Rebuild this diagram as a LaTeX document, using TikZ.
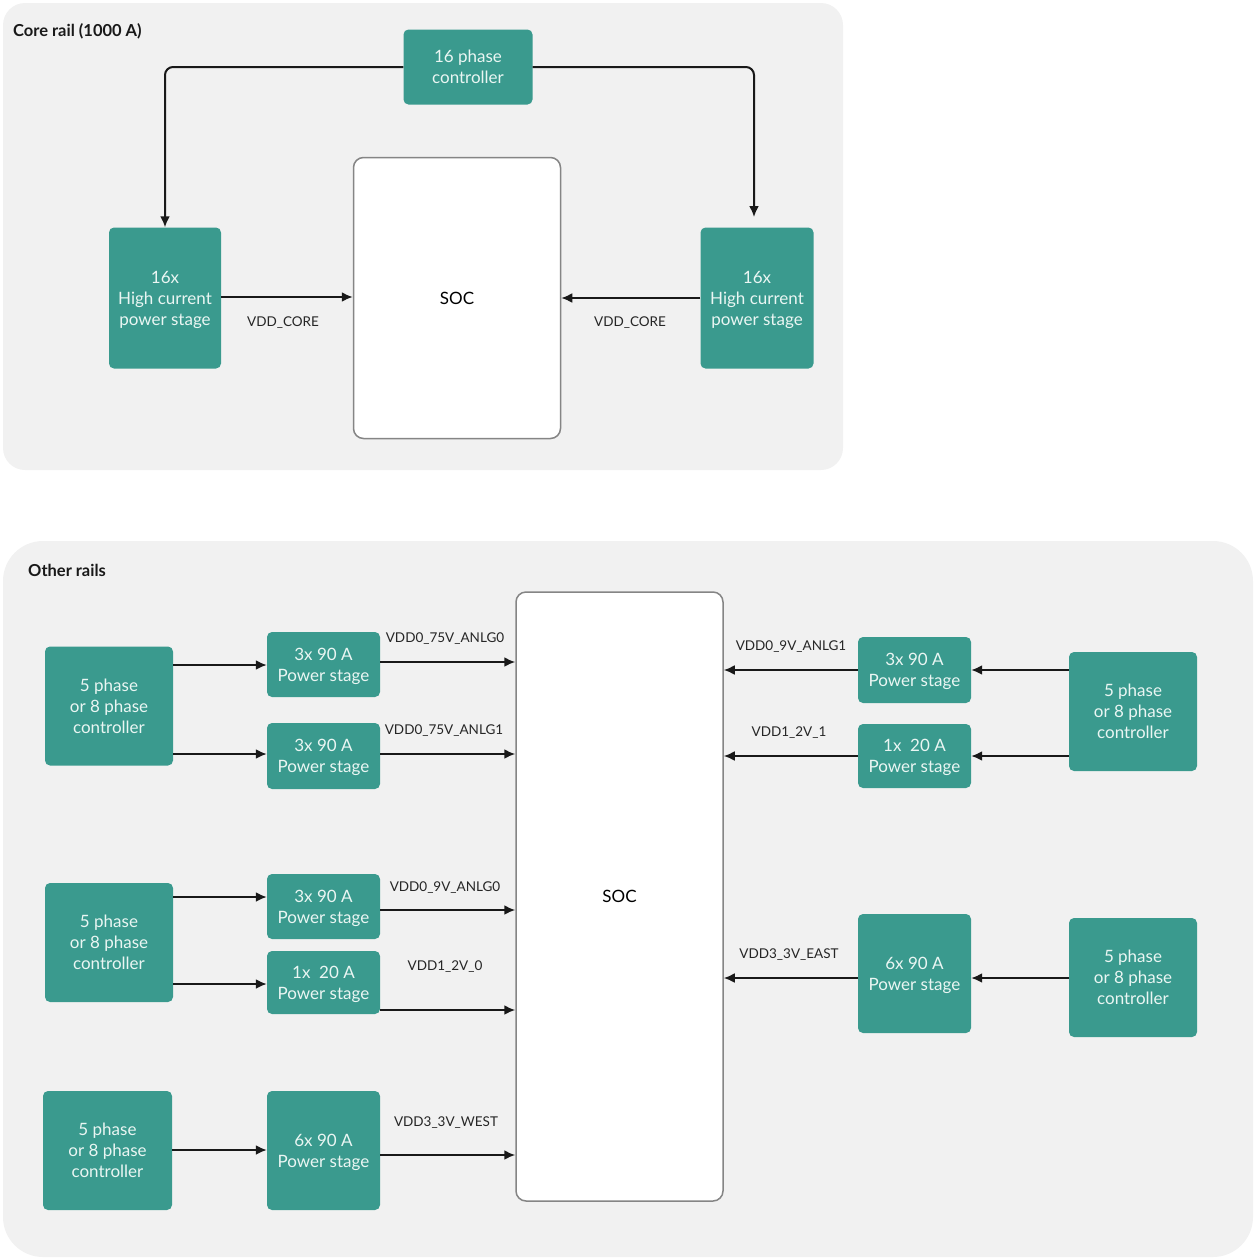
\documentclass[tikz,border=0pt]{standalone}
\usepackage{fontspec}
\setmainfont{Lato}
\usetikzlibrary{arrows.meta}
\definecolor{tealbox}{HTML}{3A9A8E}
\definecolor{panelbg}{HTML}{F1F1F1}
\definecolor{socline}{HTML}{858585}
\definecolor{boxtext}{HTML}{EAF6F3}
\begin{document}
\begin{tikzpicture}[x=1pt,y=-1pt,
  pbox/.style={fill=tealbox, rounded corners=5pt, text=boxtext, align=center, inner sep=0pt, text depth=0pt, font=\fontsize{17}{21}\selectfont},
  socbox/.style={draw=socline, line width=1.5pt, fill=white, rounded corners=10pt, inner sep=0pt, font=\fontsize{17}{21}\selectfont},
  lbl/.style={font=\fontsize{13.5}{16}\selectfont, text=black!85, inner sep=0pt},
  head/.style={font=\bfseries\fontsize{16.5}{18}\selectfont, text=black!90, inner sep=0pt, anchor=west},
  conn/.style={line width=2pt, draw=black!90, -{Latex[length=11pt,width=10pt]}}]
\useasboundingbox (0,0) rectangle (1255,1259);
% panels
\fill[panelbg, rounded corners=22pt] (3,3) rectangle (843,470);
\fill[panelbg, rounded corners=40pt] (3,541) rectangle (1253,1257);
\node[head] (h1) at (13,31) {Core rail (1000 A)};
\node[head] (h2) at (28,570) {Other rails};
% ---------- core rail ----------
\node[pbox, minimum width=129pt, minimum height=75pt] (ctl) at (468,67) {16 phase\\controller};
\node[pbox, minimum width=112pt, minimum height=141pt] (hl) at (165,298) {16x\\High current\\power stage};
\node[pbox, minimum width=113pt, minimum height=141pt] (hr) at (757,298) {16x\\High current\\power stage};
\node[socbox, minimum width=207pt, minimum height=281pt] (soc1) at (457,298) {SOC};
\draw[conn, rounded corners=8pt] (ctl.west) -- (hl.north |- ctl.west) -- (hl.north);
\draw[conn, rounded corners=8pt] (ctl.east) -- (754,67) -- (754,217);
\draw[conn] (hl.east |- 0,297) -- (soc1.west |- 0,297);
\draw[conn] (hr.west) -- (soc1.east |- hr.west);
\node[lbl] (l1) at (283,323) {VDD\_CORE};
\node[lbl] (l2) at (630,323) {VDD\_CORE};
% ---------- other rails ----------
\node[socbox, minimum width=207pt, minimum height=609pt] (soc2) at (619.5,896.5) {SOC};
% left group 1
\node[pbox, minimum width=128pt, minimum height=119pt] (c1) at (109,706) {5 phase\\or 8 phase\\controller};
\node[pbox, minimum width=113pt, minimum height=65pt] (p1) at (323.5,664.5) {3x 90 A\\Power stage};
\node[pbox, minimum width=113pt, minimum height=66pt] (p2) at (323.5,756) {3x 90 A\\Power stage};
\draw[conn] (c1.east |- 0,665) -- (p1.west |- 0,665);
\draw[conn] (c1.east |- 0,754) -- (p2.west |- 0,754);
\draw[conn] (p1.east |- 0,662) -- (soc2.west |- 0,662);
\draw[conn] (p2.east |- 0,754) -- (soc2.west |- 0,754);
\node[lbl] (t1) at (445,639) {VDD0\_75V\_ANLG0};
\node[lbl] (t2) at (444,731) {VDD0\_75V\_ANLG1};
% left group 2
\node[pbox, minimum width=128pt, minimum height=119pt] (c2) at (109,942.5) {5 phase\\or 8 phase\\controller};
\node[pbox, minimum width=113pt, minimum height=65pt] (p3) at (323.5,906.5) {3x 90 A\\Power stage};
\node[pbox, minimum width=113pt, minimum height=63pt] (p4) at (323.5,982.5) {1x\ \ 20 A\\Power stage};
\draw[conn] (c2.east |- 0,897) -- (p3.west |- 0,897);
\draw[conn] (c2.east |- 0,984) -- (p4.west |- 0,984);
\draw[conn] (p3.east |- 0,910) -- (soc2.west |- 0,910);
\draw[conn] (p4.east |- 0,1010) -- (soc2.west |- 0,1010);
\node[lbl] (t3) at (445,888) {VDD0\_9V\_ANLG0};
\node[lbl] (t4) at (445,967) {VDD1\_2V\_0};
% left group 3
\node[pbox, minimum width=129pt, minimum height=119pt] (c3) at (107.5,1150.5) {5 phase\\or 8 phase\\controller};
\node[pbox, minimum width=113pt, minimum height=119pt] (p5) at (323.5,1150.5) {6x 90 A\\Power stage};
\draw[conn] (c3.east |- 0,1150) -- (p5.west |- 0,1150);
\draw[conn] (p5.east |- 0,1155) -- (soc2.west |- 0,1155);
\node[lbl] (t5) at (446,1123) {VDD3\_3V\_WEST};
% right group 1
\node[pbox, minimum width=113pt, minimum height=66pt] (p6) at (914.5,670) {3x 90 A\\Power stage};
\node[pbox, minimum width=113pt, minimum height=64pt] (p7) at (914.5,756) {1x\ \ 20 A\\Power stage};
\node[pbox, minimum width=128pt, minimum height=119pt] (c4) at (1133,711.5) {5 phase\\or 8 phase\\controller};
\draw[conn] (c4.west |- 0,670) -- (p6.east |- 0,670);
\draw[conn] (c4.west |- 0,756) -- (p7.east |- 0,756);
\draw[conn] (p6.west |- 0,670) -- (soc2.east |- 0,670);
\draw[conn] (p7.west |- 0,756) -- (soc2.east |- 0,756);
\node[lbl] (t6) at (791,647) {VDD0\_9V\_ANLG1};
\node[lbl] (t7) at (789,733) {VDD1\_2V\_1};
% right group 2
\node[pbox, minimum width=113pt, minimum height=119pt] (p8) at (914.5,973.5) {6x 90 A\\Power stage};
\node[pbox, minimum width=128pt, minimum height=119pt] (c5) at (1133,977.5) {5 phase\\or 8 phase\\controller};
\draw[conn] (c5.west |- 0,978) -- (p8.east |- 0,978);
\draw[conn] (p8.west |- 0,978) -- (soc2.east |- 0,978);
\node[lbl] (t8) at (789,955) {VDD3\_3V\_EAST};
\end{tikzpicture}
\end{document}
